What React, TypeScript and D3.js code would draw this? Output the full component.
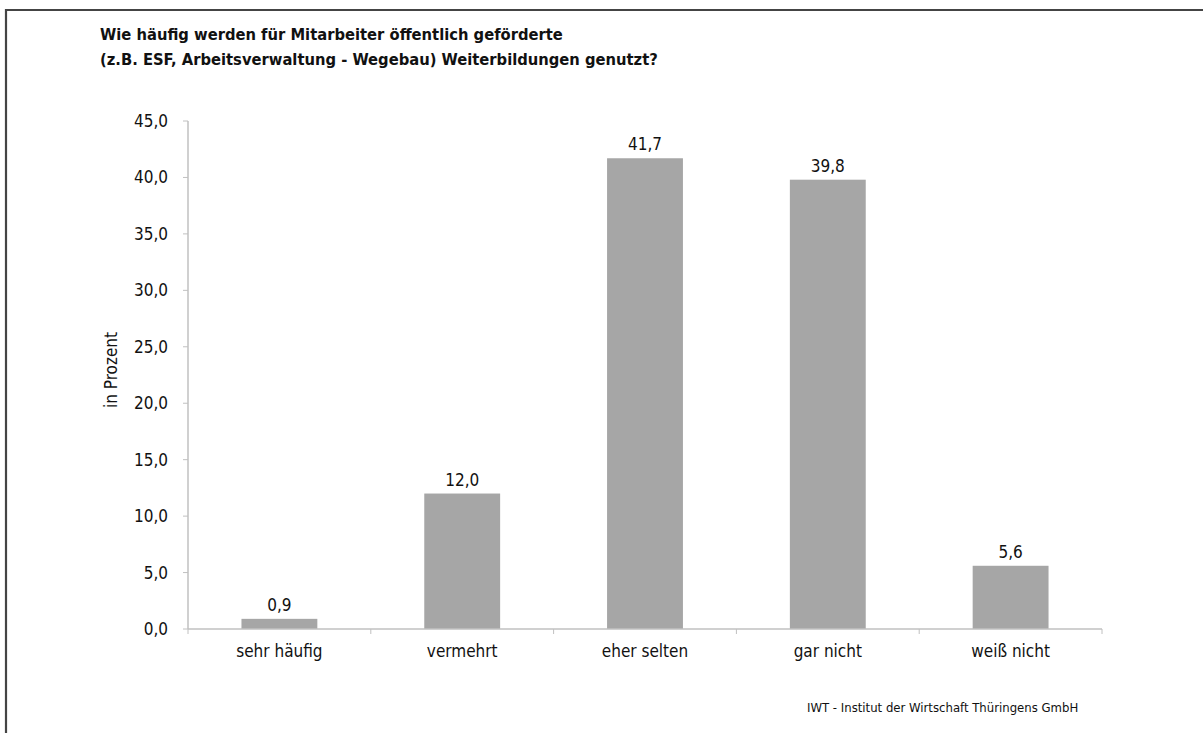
import React from "react";
import * as d3 from "d3";

const categories = ["sehr häufig", "vermehrt", "eher selten", "gar nicht", "weiß nicht"];
const values = [0.9, 12.0, 41.7, 39.8, 5.6];
const yTicks = [0, 5, 10, 15, 20, 25, 30, 35, 40, 45];
const titleLines = [
  "Wie häufig werden für Mitarbeiter öffentlich geförderte",
  "(z.B. ESF, Arbeitsverwaltung - Wegebau) Weiterbildungen genutzt?",
];
const yAxisLabel = "in Prozent";
const footer = "IWT - Institut der Wirtschaft Thüringens GmbH";

const W = 1203;
const H = 733;
const FONT = "'Liberation Sans Narrow', 'DejaVu Sans Condensed', 'Roboto', sans-serif";
const fmt = (v: number) => v.toFixed(1).replace(".", ",");

export default function App() {
  const left = 188, right = 1102, top = 121, bottom = 629;
  const x = d3.scaleBand<string>().domain(categories).range([left, right]).paddingInner(0.585).paddingOuter(0.2925);
  const xb = d3.scaleBand<string>().domain(categories).range([left, right]);
  const y = d3.scaleLinear().domain([0, 45]).range([bottom, top]);
  const axisColor = "#c0c0c0";
  return (
    <div style={{ position: "fixed", left: 0, top: 0 }}>
      <svg width={W} height={H} style={{ display: "block" }} fontFamily={FONT}>
        <rect x={0} y={0} width={W} height={H} fill="#fff" />
        <path d={`M6,${H} L6,10 L${W},10`} fill="none" stroke="#444" strokeWidth={2.2} />
        {titleLines.map((t, i) => (
          <text key={i} x={100} y={40 + i * 25} fontSize={16.4} fontWeight="bold" fill="#111">{t}</text>
        ))}
        {yTicks.map((t) => (
          <g key={t}>
            <line x1={left - 5} x2={left} y1={y(t)} y2={y(t)} stroke={axisColor} />
            <text x={168} y={y(t) + 6} fontSize={17} textAnchor="end" fill="#111">{fmt(t)}</text>
          </g>
        ))}
        {categories.map((c, i) => (
          <g key={c}>
            <rect x={x(c)} y={y(values[i])} width={x.bandwidth()} height={bottom - y(values[i])} fill="#a6a6a6" />
            <text x={x(c)! + x.bandwidth() / 2} y={y(values[i]) - 8} fontSize={17} textAnchor="middle" fill="#111">{fmt(values[i])}</text>
            <text x={xb(c)! + xb.bandwidth() / 2} y={657} fontSize={17} textAnchor="middle" fill="#111">{c}</text>
          </g>
        ))}
        {[...categories.map((c) => xb(c)!), right].map((px, i) => (
          <line key={i} x1={px} x2={px} y1={bottom} y2={bottom + 5} stroke={axisColor} />
        ))}
        <line x1={left} x2={left} y1={top} y2={bottom} stroke={axisColor} strokeWidth={1.5} />
        <line x1={left} x2={right} y1={bottom} y2={bottom} stroke={axisColor} strokeWidth={1.5} />
        <text transform={`translate(117,${(top + bottom) / 2 - 5}) rotate(-90)`} fontSize={17} textAnchor="middle" fill="#111">{yAxisLabel}</text>
        <text x={807} y={712} fontSize={13} fill="#111">{footer}</text>
      </svg>
    </div>
  );
}
